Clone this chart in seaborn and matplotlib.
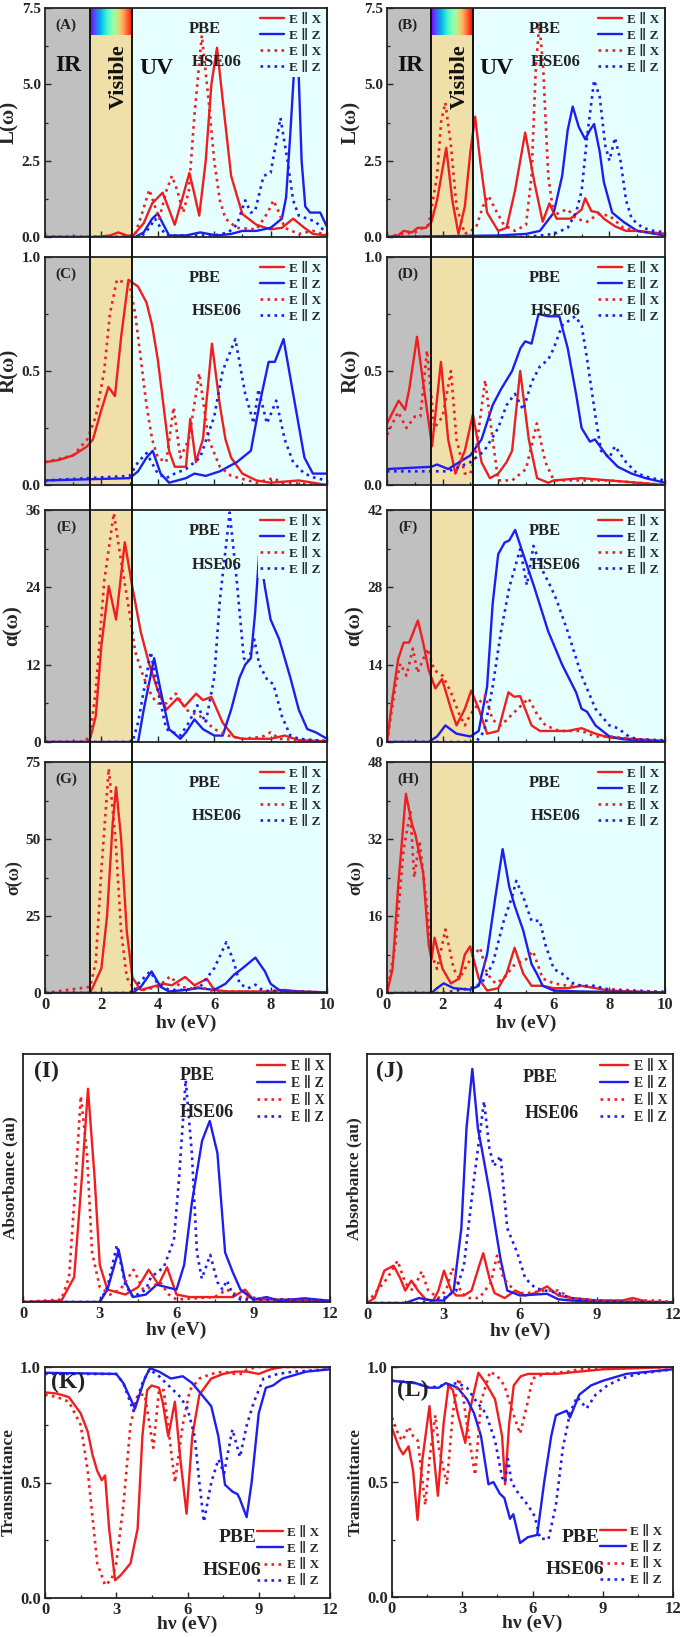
import matplotlib
matplotlib.use('Agg')
import numpy as np
import pandas as pd
import matplotlib.pyplot as plt
import seaborn as sns
from matplotlib.ticker import MultipleLocator, FormatStrFormatter

# ---------------- data (energy in eV) ----------------
# (A) L(w), left material
A_pbe_x_e = [0, 1.8, 2.3, 2.6, 2.9, 3.1, 3.5, 3.8, 4.17, 4.4, 4.6, 4.85, 5.12, 5.3, 5.47, 5.7, 5.9, 6.1, 6.3, 6.6, 7.0, 7.5, 8.0, 8.4, 8.8, 9.2, 9.5, 10]
A_pbe_x_v = [0, 0, 0.05, 0.15, 0.05, 0.02, 0.45, 1.1, 1.45, 0.9, 0.4, 1.2, 2.1, 1.4, 0.7, 2.5, 5.0, 6.2, 4.5, 2.0, 0.75, 0.4, 0.25, 0.3, 0.6, 0.3, 0.1, 0.05]
A_pbe_z_e = [0, 3.2, 3.5, 3.8, 4.0, 4.2, 4.4, 5.0, 5.5, 6.1, 6.6, 7.0, 7.5, 8.0, 8.4, 8.55, 8.7, 8.88, 9.0, 9.1, 9.23, 9.4, 9.76, 10]
A_pbe_z_v = [0, 0, 0.15, 0.6, 0.77, 0.4, 0.05, 0.05, 0.15, 0.05, 0.1, 0.2, 0.2, 0.3, 0.6, 1.3, 3.4, 6.2, 5.2, 2.5, 1.0, 0.8, 0.8, 0.33]
A_hse_x_e = [0, 2.9, 3.2, 3.45, 3.7, 3.9, 4.05, 4.3, 4.5, 4.7, 4.9, 5.1, 5.3, 5.56, 5.8, 6.0, 6.2, 6.4, 6.8, 7.5, 7.9, 8.1, 8.3, 8.5, 9.0, 9.5, 10]
A_hse_x_v = [0, 0, 0.1, 0.8, 1.55, 1.0, 0.6, 1.5, 2.0, 1.5, 0.8, 1.5, 4.0, 6.6, 4.5, 2.5, 1.2, 0.6, 0.3, 0.25, 0.8, 1.2, 0.8, 0.3, 0.1, 0.2, 0.05]
A_hse_z_e = [0, 3.4, 3.7, 3.9, 4.1, 4.3, 6.0, 6.5, 6.8, 7.1, 7.3, 7.45, 7.75, 8.0, 8.35, 8.6, 8.8, 9.0, 9.3, 9.6, 10]
A_hse_z_v = [0, 0, 0.3, 0.6, 0.3, 0.05, 0.05, 0.15, 0.4, 1.2, 0.8, 0.85, 2.0, 2.1, 3.9, 2.5, 1.2, 0.7, 0.6, 0.5, 0.1]

# (B) L(w), right material
B_pbe_x_e = [0, 0.4, 0.6, 0.9, 1.1, 1.4, 1.6, 1.8, 2.13, 2.35, 2.57, 2.8, 3.0, 3.17, 3.35, 3.6, 4.0, 4.3, 4.6, 4.97, 5.3, 5.6, 5.84, 6.1, 6.6, 7.0, 7.13, 7.35, 7.6, 7.8, 8.2, 8.6, 9.0, 10]
B_pbe_x_v = [0, 0.05, 0.2, 0.15, 0.3, 0.3, 0.5, 1.2, 2.92, 1.2, 0.1, 1.0, 2.8, 3.94, 2.5, 0.8, 0.2, 0.3, 1.5, 3.42, 1.8, 0.5, 1.1, 0.6, 0.6, 0.9, 1.27, 0.85, 0.8, 0.6, 0.35, 0.2, 0.2, 0.1]
B_pbe_z_e = [0, 4.0, 5.0, 5.5, 6.0, 6.3, 6.5, 6.68, 6.9, 7.13, 7.3, 7.45, 7.65, 7.8, 8.1, 8.5, 9.0, 10]
B_pbe_z_v = [0, 0.05, 0.1, 0.2, 0.8, 2.0, 3.5, 4.27, 3.6, 3.2, 3.5, 3.7, 2.8, 1.8, 0.8, 0.5, 0.2, 0.05]
B_hse_x_e = [0, 0.5, 1.0, 1.5, 1.8, 1.95, 2.1, 2.3, 2.5, 2.8, 3.2, 3.45, 3.65, 3.9, 4.2, 4.6, 5.0, 5.2, 5.35, 5.48, 5.62, 5.8, 6.0, 6.3, 6.5, 6.8, 7.2, 7.6, 8.0, 8.5, 9.0, 10]
B_hse_x_v = [0, 0.1, 0.15, 0.4, 2.0, 3.8, 4.4, 3.0, 1.0, 0.1, 0.3, 1.0, 1.35, 0.9, 0.4, 0.2, 0.4, 2.0, 5.5, 7.0, 5.5, 2.0, 0.7, 0.85, 0.9, 0.6, 0.5, 0.75, 0.7, 0.3, 0.2, 0.1]
B_hse_z_e = [0, 5.0, 6.0, 6.5, 6.8, 7.0, 7.2, 7.45, 7.65, 7.85, 8.0, 8.2, 8.4, 8.6, 8.8, 9.2, 9.6, 10]
B_hse_z_v = [0, 0, 0.1, 0.3, 0.8, 1.5, 3.3, 5.13, 4.6, 3.0, 2.5, 3.25, 2.5, 1.2, 0.6, 0.3, 0.2, 0.15]

# (C) R(w)
C_pbe_x_e = [0, 0.5, 1.0, 1.5, 1.7, 2.0, 2.25, 2.48, 2.7, 2.96, 3.3, 3.6, 3.8, 4.0, 4.2, 4.4, 4.6, 5.0, 5.15, 5.35, 5.6, 5.92, 6.2, 6.4, 6.6, 7.0, 7.5, 8.0, 9.0, 10]
C_pbe_x_v = [0.1, 0.11, 0.13, 0.17, 0.2, 0.33, 0.43, 0.39, 0.65, 0.9, 0.87, 0.8, 0.7, 0.55, 0.35, 0.15, 0.08, 0.08, 0.29, 0.1, 0.2, 0.62, 0.35, 0.2, 0.12, 0.05, 0.02, 0.01, 0.02, 0.0]
C_pbe_z_e = [0, 3.0, 3.3, 3.6, 3.82, 4.1, 4.4, 5.0, 5.3, 5.7, 6.2, 6.8, 7.3, 7.6, 7.93, 8.15, 8.46, 8.8, 9.2, 9.5, 10]
C_pbe_z_v = [0.02, 0.03, 0.06, 0.12, 0.15, 0.05, 0.01, 0.03, 0.05, 0.04, 0.06, 0.1, 0.15, 0.35, 0.54, 0.54, 0.64, 0.4, 0.12, 0.05, 0.05]
C_hse_x_e = [0, 1.0, 1.5, 1.8, 2.1, 2.3, 2.55, 3.0, 3.2, 3.4, 3.6, 3.8, 4.0, 4.3, 4.56, 4.8, 5.1, 5.47, 5.8, 6.2, 6.6, 7.5, 8.1, 8.4, 10]
C_hse_x_v = [0.1, 0.13, 0.2, 0.3, 0.5, 0.75, 0.9, 0.88, 0.75, 0.55, 0.35, 0.2, 0.12, 0.1, 0.34, 0.12, 0.2, 0.49, 0.2, 0.08, 0.04, 0.01, 0.03, 0.01, 0.0]
C_hse_z_e = [0, 3.0, 3.3, 3.6, 4.0, 4.3, 4.6, 5.0, 5.5, 6.0, 6.3, 6.75, 7.1, 7.4, 7.57, 7.87, 8.2, 8.5, 8.8, 9.2, 9.6, 10]
C_hse_z_v = [0.02, 0.04, 0.1, 0.14, 0.05, 0.03, 0.05, 0.07, 0.12, 0.3, 0.5, 0.64, 0.4, 0.27, 0.42, 0.27, 0.37, 0.2, 0.1, 0.05, 0.03, 0.02]

# (D) R(w)
D_pbe_x_e = [0, 0.42, 0.65, 0.8, 1.08, 1.3, 1.62, 1.94, 2.2, 2.46, 2.8, 3.09, 3.4, 3.7, 4.0, 4.3, 4.5, 4.79, 5.1, 5.4, 5.8, 6.0, 7.0, 8.0, 10]
D_pbe_x_v = [0.27, 0.37, 0.33, 0.42, 0.65, 0.45, 0.17, 0.54, 0.2, 0.05, 0.15, 0.31, 0.1, 0.03, 0.05, 0.1, 0.15, 0.5, 0.2, 0.03, 0.01, 0.02, 0.03, 0.02, 0.0]
D_pbe_z_e = [0, 1.6, 1.8, 2.2, 2.6, 3.0, 3.4, 3.8, 4.1, 4.5, 4.8, 4.97, 5.2, 5.45, 5.8, 6.2, 6.5, 6.8, 7.0, 7.3, 7.48, 7.9, 8.3, 8.8, 9.3, 10]
D_pbe_z_v = [0.07, 0.08, 0.09, 0.07, 0.1, 0.13, 0.2, 0.35, 0.42, 0.5, 0.6, 0.63, 0.62, 0.75, 0.74, 0.74, 0.6, 0.4, 0.25, 0.19, 0.2, 0.13, 0.08, 0.05, 0.03, 0.01]
D_hse_x_e = [0, 0.4, 0.7, 1.0, 1.2, 1.44, 1.7, 2.0, 2.3, 2.5, 2.8, 3.0, 3.2, 3.53, 3.8, 4.0, 4.5, 5.0, 5.39, 5.7, 6.0, 7.0, 8.0, 10]
D_hse_x_v = [0.22, 0.32, 0.25, 0.3, 0.3, 0.59, 0.25, 0.3, 0.5, 0.2, 0.05, 0.05, 0.15, 0.46, 0.2, 0.02, 0.02, 0.07, 0.27, 0.1, 0.02, 0.02, 0.02, 0.0]
D_hse_z_e = [0, 1.6, 2.2, 2.6, 3.0, 3.5, 4.0, 4.3, 4.6, 4.9, 5.2, 5.5, 5.8, 6.0, 6.3, 6.77, 7.0, 7.2, 7.5, 7.7, 8.0, 8.2, 8.6, 9.0, 9.5, 10]
D_hse_z_v = [0.06, 0.06, 0.06, 0.08, 0.1, 0.15, 0.25, 0.35, 0.4, 0.33, 0.45, 0.52, 0.55, 0.6, 0.7, 0.74, 0.7, 0.55, 0.3, 0.15, 0.12, 0.17, 0.1, 0.05, 0.03, 0.02]

# (E) alpha(w)
E_pbe_x_e = [0, 1.5, 1.6, 1.8, 2.0, 2.26, 2.52, 2.83, 3.1, 3.4, 3.7, 4.0, 4.3, 4.7, 4.95, 5.36, 5.6, 5.9, 6.3, 6.7, 7.0, 8.0, 8.5, 9.0, 10]
E_pbe_x_v = [0, 0, 0.5, 4, 15, 24.2, 19, 31, 24, 17, 12, 8, 5, 6.8, 5.5, 7.5, 6.5, 7.0, 3, 0.8, 0.5, 0.5, 1.0, 0.3, 0.1]
E_pbe_z_e = [0, 3.3, 3.5, 3.87, 4.1, 4.4, 4.8, 5.0, 5.3, 5.6, 6.0, 6.3, 6.6, 6.9, 7.1, 7.3, 7.45, 7.6, 7.8, 8.0, 8.3, 8.7, 9.0, 9.3, 9.6, 10]
E_pbe_z_v = [0, 0, 5, 13, 8, 2, 0.5, 1.5, 3.5, 2, 1, 1, 5, 10, 12, 13, 20, 29.6, 24, 19, 16, 10, 5, 2, 1.5, 0.5]
E_hse_x_e = [0, 1.4, 1.6, 1.8, 2.1, 2.44, 2.7, 3.0, 3.2, 3.5, 3.8, 4.0, 4.3, 4.64, 5.0, 5.5, 6.0, 6.5, 7.0, 7.7, 8.0, 8.3, 9.0, 10]
E_hse_x_v = [0, 0, 1, 8, 25, 35.5, 28, 20, 14, 10, 7, 6, 6, 7.5, 5, 4, 2, 1, 0.5, 0.8, 1.5, 0.5, 0.3, 0.2]
E_hse_z_e = [0, 3.1, 3.3, 3.75, 4.0, 4.3, 4.8, 5.1, 5.4, 5.7, 6.0, 6.2, 6.55, 6.8, 7.05, 7.2, 7.42, 7.6, 7.9, 8.1, 8.4, 8.7, 9.0, 9.5, 10]
E_hse_z_v = [0, 0, 3, 14, 8, 2, 1, 3, 5.7, 3, 10, 22, 35.6, 25, 13, 12.4, 15.9, 12, 9.5, 9, 4, 1, 0.5, 0.3, 0.1]

# (F) alpha(w)
F_pbe_x_e = [0, 0.2, 0.4, 0.6, 0.8, 1.11, 1.3, 1.5, 1.74, 1.98, 2.3, 2.5, 2.8, 3.03, 3.3, 3.6, 4.0, 4.37, 4.57, 4.79, 5.2, 5.5, 6.0, 6.5, 7.0, 7.5, 8.0, 9.0, 10]
F_pbe_x_v = [0, 8, 15, 18, 18, 22, 18, 13, 9.7, 11.4, 6, 3, 6, 9.3, 6, 1.5, 2, 9, 8.2, 8.3, 3, 2, 2, 2, 2.5, 1.5, 0.8, 0.5, 0.2]
F_pbe_z_e = [0, 1.5, 1.8, 2.1, 2.5, 3.0, 3.3, 3.6, 3.8, 4.0, 4.23, 4.4, 4.61, 4.9, 5.3, 5.8, 6.3, 6.8, 7.0, 7.19, 7.5, 8.0, 8.5, 9.0, 10]
F_pbe_z_v = [0, 0, 1, 3, 1.5, 1, 2, 10, 25, 34, 36.1, 36.5, 38.4, 34, 28, 20, 14, 9, 6, 5.5, 3, 1, 0.5, 0.3, 0.1]
F_hse_x_e = [0, 0.3, 0.48, 0.7, 0.93, 1.1, 1.46, 1.7, 2.0, 2.3, 2.6, 2.8, 3.0, 3.3, 3.53, 3.8, 4.1, 4.5, 5.09, 5.4, 5.7, 6.2, 7.0, 7.5, 8.0, 9.0, 10]
F_hse_x_v = [0, 10, 14.2, 12, 16.9, 12.5, 16.9, 13, 12, 9, 5, 3, 5, 7, 8.4, 4, 3, 5, 7.9, 5, 3, 2, 2, 1, 1, 0.5, 0.2]
F_hse_z_e = [0, 3.2, 3.5, 3.8, 4.1, 4.4, 4.79, 5.03, 5.27, 5.6, 5.9, 6.1, 6.5, 7.0, 7.5, 8.0, 8.3, 8.7, 9.0, 10]
F_hse_z_v = [0, 0, 2, 10, 20, 28, 34.9, 28.4, 35.5, 31, 28, 25.7, 20, 12, 6, 3, 2.5, 1, 0.5, 0.3]

# (G) sigma(w)
G_pbe_x_e = [0, 1.6, 2.0, 2.2, 2.4, 2.52, 2.7, 2.9, 3.1, 3.4, 3.8, 4.2, 4.5, 4.97, 5.3, 5.74, 6.0, 6.5, 7.0, 8.0, 8.5, 9.0, 10]
G_pbe_x_v = [0, 0, 8, 25, 55, 66.8, 50, 20, 5, 1, 2, 3, 2.5, 5.2, 2.5, 4.6, 1, 0.5, 0.5, 0.5, 1, 0.5, 0.2]
G_pbe_z_e = [0, 3.1, 3.4, 3.78, 4.1, 4.4, 5.0, 5.44, 6.0, 6.4, 6.7, 7.0, 7.46, 7.8, 8.0, 8.3, 8.6, 10]
G_pbe_z_v = [0, 0, 2, 7, 2, 0.5, 1, 1.6, 1, 3, 5.9, 8, 11.5, 7, 3, 1, 0.5, 0.2]
G_hse_x_e = [0, 1.6, 1.8, 2.0, 2.26, 2.5, 2.7, 2.9, 3.1, 3.5, 4.0, 4.44, 4.8, 5.2, 5.5, 6.0, 7.0, 8.0, 10]
G_hse_x_v = [0, 2, 10, 40, 72.9, 50, 20, 5, 2, 1, 2, 5.4, 2, 1.5, 2, 0.5, 0.5, 0.5, 0.2]
G_hse_z_e = [0, 3.1, 3.3, 3.73, 4.0, 4.4, 5.0, 5.5, 6.0, 6.43, 6.7, 6.9, 7.2, 7.46, 7.7, 8.0, 8.2, 10]
G_hse_z_v = [0, 0, 3, 7, 3, 1, 1, 2, 8, 16.5, 10, 3, 1.5, 2.7, 1, 0.5, 0.8, 0.1]

# (H) sigma(w)
H_pbe_x_e = [0, 0.2, 0.4, 0.68, 0.9, 1.02, 1.3, 1.5, 1.6, 1.71, 2.0, 2.3, 2.6, 2.8, 2.99, 3.3, 3.6, 4.0, 4.3, 4.59, 4.9, 5.2, 5.6, 6.0, 6.5, 7.0, 7.5, 8.0, 10]
H_pbe_x_v = [0, 5, 22, 41.4, 35, 33, 25, 10, 7, 11.5, 5, 2, 3, 8, 9.7, 3, 0.5, 1, 4, 9.4, 4, 1.5, 1.5, 1, 1, 1.5, 1, 0.5, 0.1]
H_pbe_z_e = [0, 1.6, 1.8, 2.04, 2.4, 3.0, 3.3, 3.6, 3.9, 4.16, 4.4, 4.6, 4.9, 5.2, 5.39, 5.6, 6.0, 7.0, 10]
H_pbe_z_v = [0, 0, 1, 2, 1, 0.7, 1.5, 8, 20, 29.9, 22, 18, 13, 6, 4, 1.5, 0.5, 0.3, 0.1]
H_hse_x_e = [0, 0.3, 0.6, 0.84, 0.98, 1.17, 1.4, 1.6, 1.8, 2.1, 2.4, 2.6, 3.0, 3.35, 3.6, 3.9, 4.2, 4.6, 5.0, 5.25, 5.6, 6.0, 6.5, 7.0, 8.0, 10]
H_hse_x_v = [0, 10, 30, 37.6, 24, 31.6, 20, 8, 5, 13.2, 5, 3, 7, 9.4, 4, 2, 3, 6, 7, 8.7, 3, 2, 1.5, 1.5, 0.8, 0.2]
H_hse_z_e = [0, 2.0, 2.5, 3.0, 3.4, 3.8, 4.2, 4.5, 4.65, 4.9, 5.2, 5.5, 5.7, 6.0, 6.3, 6.7, 7.0, 7.5, 8.0, 10]
H_hse_z_v = [0, 0, 0.5, 1, 2, 6, 15, 20, 23.3, 20, 15, 15, 10, 5, 4, 2, 1.5, 1.5, 0.5, 0.2]

# (I) absorbance (arb. units)
I_pbe_x_e = [0, 1.5, 2.0, 2.3, 2.54, 2.8, 3.0, 3.3, 4.0, 4.5, 4.91, 5.3, 5.63, 6.0, 6.5, 7.5, 8.2, 8.68, 9.0, 10, 12]
I_pbe_x_v = [0, 0.005, 0.1, 0.5, 0.86, 0.5, 0.15, 0.05, 0.03, 0.06, 0.13, 0.07, 0.14, 0.03, 0.02, 0.02, 0.02, 0.05, 0.01, 0.01, 0.005]
I_pbe_z_e = [0, 3.0, 3.3, 3.74, 4.0, 4.3, 4.8, 5.23, 5.6, 6.0, 6.3, 6.6, 7.0, 7.3, 7.6, 7.9, 8.2, 8.5, 9.0, 9.53, 10, 11, 12]
I_pbe_z_v = [0, 0, 0.05, 0.21, 0.08, 0.02, 0.03, 0.07, 0.06, 0.05, 0.15, 0.4, 0.65, 0.73, 0.6, 0.2, 0.12, 0.05, 0.01, 0.02, 0.005, 0.015, 0.005]
I_hse_x_e = [0, 1.5, 1.8, 2.0, 2.26, 2.5, 2.7, 3.0, 3.4, 3.8, 4.32, 4.7, 5.0, 5.36, 5.7, 6.0, 7.5, 7.97, 8.5, 10, 12]
I_hse_x_v = [0, 0.01, 0.1, 0.4, 0.83, 0.6, 0.2, 0.06, 0.03, 0.05, 0.13, 0.05, 0.06, 0.08, 0.03, 0.01, 0.02, 0.05, 0.02, 0.01, 0.005]
I_hse_z_e = [0, 3.0, 3.3, 3.67, 4.0, 4.3, 4.8, 5.0, 5.5, 5.9, 6.1, 6.36, 6.6, 6.8, 6.99, 7.32, 7.6, 7.8, 7.97, 8.2, 8.5, 9.0, 10.5, 12]
I_hse_z_v = [0, 0, 0.06, 0.23, 0.07, 0.02, 0.05, 0.1, 0.14, 0.25, 0.5, 0.895, 0.6, 0.2, 0.094, 0.19, 0.08, 0.05, 0.087, 0.03, 0.01, 0.01, 0.01, 0.005]

# (J) absorbance (arb. units)
J_pbe_x_e = [0, 0.3, 0.68, 1.04, 1.3, 1.5, 1.74, 2.0, 2.3, 2.6, 2.8, 3.02, 3.3, 3.5, 3.8, 4.1, 4.4, 4.56, 4.8, 5.0, 5.4, 5.82, 6.2, 6.6, 7.06, 7.5, 8.0, 9.0, 10.0, 10.42, 11, 12]
J_pbe_x_v = [0, 0.02, 0.13, 0.15, 0.1, 0.05, 0.09, 0.05, 0.015, 0.01, 0.05, 0.13, 0.05, 0.03, 0.03, 0.05, 0.15, 0.2, 0.1, 0.04, 0.02, 0.05, 0.03, 0.04, 0.067, 0.03, 0.02, 0.01, 0.01, 0.02, 0.005, 0.003]
J_pbe_z_e = [0, 1.5, 2.04, 2.5, 3.0, 3.4, 3.7, 3.9, 4.13, 4.35, 4.5, 4.8, 5.23, 5.5, 6.0, 7.06, 7.5, 8.0, 9.0, 12]
J_pbe_z_v = [0, 0, 0.02, 0.01, 0.01, 0.05, 0.3, 0.7, 0.94, 0.7, 0.62, 0.45, 0.18, 0.05, 0.03, 0.037, 0.015, 0.01, 0.005, 0.002]
J_hse_x_e = [0, 0.4, 0.8, 1.2, 1.5, 1.8, 2.14, 2.4, 2.8, 3.1, 3.35, 3.7, 4.0, 4.4, 4.85, 5.1, 5.35, 5.5, 5.9, 6.3, 7.0, 7.5, 8.0, 9.0, 11.5, 12]
J_hse_x_v = [0, 0.05, 0.1, 0.17, 0.08, 0.05, 0.127, 0.05, 0.02, 0.05, 0.14, 0.04, 0.02, 0.02, 0.08, 0.19, 0.1, 0.08, 0.04, 0.04, 0.05, 0.05, 0.02, 0.01, 0.01, 0.003]
J_hse_z_e = [0, 2.0, 2.5, 3.0, 3.5, 3.8, 4.2, 4.59, 4.8, 4.98, 5.24, 5.5, 5.9, 6.2, 6.6, 7.0, 7.5, 8.0, 9.0, 10, 12]
J_hse_z_v = [0, 0, 0.01, 0.02, 0.05, 0.15, 0.5, 0.81, 0.62, 0.55, 0.59, 0.3, 0.2, 0.1, 0.06, 0.05, 0.04, 0.02, 0.01, 0.005, 0.003]

# (K) transmittance
K_pbe_x_e = [0, 0.5, 1.0, 1.5, 1.8, 2.0, 2.2, 2.39, 2.53, 2.7, 2.95, 3.2, 3.6, 3.9, 4.1, 4.3, 4.49, 4.8, 4.95, 5.19, 5.47, 5.7, 5.96, 6.2, 6.5, 7.0, 7.5, 8.0, 8.5, 9.0, 9.5, 10, 12]
K_pbe_x_v = [0.89, 0.885, 0.87, 0.8, 0.72, 0.62, 0.55, 0.51, 0.53, 0.3, 0.077, 0.1, 0.15, 0.3, 0.7, 0.9, 0.92, 0.91, 0.85, 0.7, 0.85, 0.6, 0.365, 0.7, 0.88, 0.95, 0.97, 0.98, 0.98, 0.97, 0.99, 1.0, 1.0]
K_pbe_z_e = [0, 3.0, 3.3, 3.79, 4.2, 4.42, 4.8, 5.3, 5.8, 6.2, 6.6, 7.0, 7.3, 7.58, 7.9, 8.1, 8.2, 8.49, 8.7, 9.0, 9.3, 9.6, 10, 11, 12]
K_pbe_z_v = [0.975, 0.97, 0.93, 0.82, 0.95, 0.995, 0.98, 0.95, 0.96, 0.93, 0.88, 0.83, 0.7, 0.49, 0.46, 0.45, 0.43, 0.35, 0.5, 0.8, 0.91, 0.92, 0.95, 0.98, 0.99]
K_hse_x_e = [0, 0.5, 1.0, 1.5, 1.8, 2.0, 2.2, 2.53, 2.8, 3.0, 3.3, 3.6, 3.9, 4.2, 4.56, 4.8, 5.0, 5.47, 5.8, 6.1, 6.5, 7.0, 7.5, 8.0, 8.3, 8.5, 9.0, 12]
K_hse_x_v = [0.88, 0.87, 0.85, 0.75, 0.55, 0.35, 0.15, 0.055, 0.08, 0.15, 0.4, 0.75, 0.88, 0.88, 0.65, 0.9, 0.9, 0.5, 0.75, 0.9, 0.95, 0.97, 0.98, 0.97, 0.97, 0.99, 1.0, 1.0]
K_hse_z_e = [0, 3.0, 3.3, 3.72, 4.1, 4.4, 4.8, 5.3, 5.7, 6.0, 6.3, 6.5, 6.69, 7.0, 7.3, 7.54, 7.89, 8.21, 8.5, 8.8, 9.2, 9.8, 10.5, 12]
K_hse_z_v = [0.97, 0.97, 0.93, 0.81, 0.93, 0.99, 0.96, 0.91, 0.87, 0.82, 0.7, 0.5, 0.33, 0.5, 0.6, 0.54, 0.73, 0.61, 0.75, 0.85, 0.95, 0.97, 0.98, 0.99]

# (L) transmittance
L_pbe_x_e = [0, 0.3, 0.47, 0.71, 0.9, 1.09, 1.3, 1.6, 1.8, 1.96, 2.2, 2.41, 2.6, 2.8, 3.13, 3.3, 3.69, 4.0, 4.4, 4.7, 4.83, 5.0, 5.2, 5.5, 5.82, 6.5, 7.0, 8.0, 9.0, 12]
L_pbe_x_v = [0.735, 0.65, 0.62, 0.655, 0.55, 0.335, 0.6, 0.83, 0.6, 0.44, 0.75, 0.92, 0.9, 0.8, 0.67, 0.8, 0.975, 0.93, 0.86, 0.7, 0.49, 0.75, 0.92, 0.96, 0.97, 0.97, 0.97, 0.98, 0.99, 1.0]
L_pbe_z_e = [0, 1.0, 1.6, 2.0, 2.3, 2.8, 3.2, 3.5, 3.8, 4.12, 4.33, 4.6, 4.8, 5.04, 5.18, 5.47, 5.8, 6.2, 6.5, 6.8, 7.0, 7.46, 7.6, 8.0, 8.5, 9.0, 10, 11, 12]
L_pbe_z_v = [0.94, 0.93, 0.91, 0.91, 0.93, 0.91, 0.86, 0.8, 0.7, 0.49, 0.5, 0.45, 0.43, 0.34, 0.36, 0.235, 0.26, 0.27, 0.5, 0.7, 0.79, 0.81, 0.78, 0.88, 0.92, 0.94, 0.97, 0.98, 0.99]
L_hse_x_e = [0, 0.3, 0.45, 0.71, 0.9, 1.1, 1.42, 1.6, 1.85, 2.0, 2.34, 2.6, 2.84, 3.0, 3.2, 3.55, 3.8, 4.19, 4.5, 4.8, 5.1, 5.47, 5.8, 6.0, 6.5, 7.5, 8.0, 12]
L_hse_x_v = [0.78, 0.7, 0.68, 0.74, 0.7, 0.68, 0.4, 0.6, 0.79, 0.65, 0.49, 0.8, 0.95, 0.9, 0.75, 0.53, 0.85, 0.98, 0.96, 0.92, 0.82, 0.71, 0.85, 0.95, 0.97, 0.98, 0.99, 1.0]
L_hse_z_e = [0, 1.0, 1.6, 2.2, 2.8, 3.2, 3.6, 4.0, 4.4, 4.7, 4.83, 4.95, 5.1, 5.4, 5.8, 6.1, 6.32, 6.68, 7.0, 7.3, 7.6, 7.9, 8.31, 8.7, 9.2, 9.8, 10.5, 12]
L_hse_z_v = [0.94, 0.93, 0.91, 0.92, 0.93, 0.91, 0.85, 0.8, 0.68, 0.52, 0.5, 0.6, 0.5, 0.45, 0.4, 0.35, 0.255, 0.25, 0.4, 0.65, 0.8, 0.87, 0.82, 0.88, 0.92, 0.95, 0.97, 0.99]

legend_labels = ['E ∥ X', 'E ∥ Z', 'E ∥ X', 'E ∥ Z']
region_edges = [1.6, 3.1]   # IR | visible | UV

# ---------------- style ----------------
sns.set_style('ticks')
plt.rcParams['font.family'] = ['Liberation Serif', 'DejaVu Serif']
plt.rcParams['font.weight'] = 'bold'
plt.rcParams['axes.labelweight'] = 'bold'

RED = '#f01e1e'
BLUE = '#1e1ef0'
GRAY = '#c0c0c0'
VIS = '#efe0aa'
UVC = '#e6ffff'
STYLES = [(RED, '-'), (BLUE, '-'), (RED, ':'), (BLUE, ':')]

W, H = 685, 1637
fig = plt.figure(figsize=(W / 100, H / 100), dpi=100)


def add_ax(x0, y0, x1, y1, **kw):
    return fig.add_axes([x0 / W, 1 - y1 / H, (x1 - x0) / W, (y1 - y0) / H], **kw)


def draw_curves(ax, curves):
    for (e, v), (c, ls), lab in zip(curves, STYLES, legend_labels):
        df = pd.DataFrame({'e': e, 'v': v})
        sns.lineplot(data=df, x='e', y='v', ax=ax, color=c, linestyle=ls,
                     lw=1.7 if ls == '-' else 1.9, estimator=None, sort=False, label=lab)


def style_ax(ax):
    for s in ax.spines.values():
        s.set_linewidth(1.3)
        s.set_color('#222222')
    ax.tick_params(direction='in', length=4, width=1.0, labelsize=11, pad=3)
    ax.tick_params(which='minor', direction='in', length=2.5, width=0.9)
    ax.set_xlabel('')
    ax.set_ylabel('')


def add_legend(ax, loc, face, fs=9.5, hl=1.8):
    ax.legend(loc=loc, frameon=True, facecolor=face, edgecolor='none', framealpha=1,
              fontsize=fs, handlelength=hl, labelspacing=0.3, borderpad=0.2,
              handletextpad=0.4, borderaxespad=0.2)


def pbe_hse(ax, p1, p2, fs=12):
    ax.text(p1[0], p1[1], 'PBE', transform=ax.transAxes, ha='center', va='center',
            fontsize=fs, fontweight='bold', color='#222222', zorder=6)
    ax.text(p2[0], p2[1], 'HSE06', transform=ax.transAxes, ha='center', va='center',
            fontsize=fs, fontweight='bold', color='#222222', zorder=6)


# ---------------- upper stack: panels A-H ----------------
rows = [(8, 237), (257, 485), (510, 742), (762, 993)]
cols = [(45, 327), (387, 665)]

panels = [
    [('(A)', 'L(ω)', 7.5, 2.5, '%.1f',
      [(A_pbe_x_e, A_pbe_x_v), (A_pbe_z_e, A_pbe_z_v), (A_hse_x_e, A_hse_x_v), (A_hse_z_e, A_hse_z_v)]),
     ('(B)', 'L(ω)', 7.5, 2.5, '%.1f',
      [(B_pbe_x_e, B_pbe_x_v), (B_pbe_z_e, B_pbe_z_v), (B_hse_x_e, B_hse_x_v), (B_hse_z_e, B_hse_z_v)])],
    [('(C)', 'R(ω)', 1.0, 0.5, '%.1f',
      [(C_pbe_x_e, C_pbe_x_v), (C_pbe_z_e, C_pbe_z_v), (C_hse_x_e, C_hse_x_v), (C_hse_z_e, C_hse_z_v)]),
     ('(D)', 'R(ω)', 1.0, 0.5, '%.1f',
      [(D_pbe_x_e, D_pbe_x_v), (D_pbe_z_e, D_pbe_z_v), (D_hse_x_e, D_hse_x_v), (D_hse_z_e, D_hse_z_v)])],
    [('(E)', 'α(ω)', 36, 12, '%d',
      [(E_pbe_x_e, E_pbe_x_v), (E_pbe_z_e, E_pbe_z_v), (E_hse_x_e, E_hse_x_v), (E_hse_z_e, E_hse_z_v)]),
     ('(F)', 'α(ω)', 42, 14, '%d',
      [(F_pbe_x_e, F_pbe_x_v), (F_pbe_z_e, F_pbe_z_v), (F_hse_x_e, F_hse_x_v), (F_hse_z_e, F_hse_z_v)])],
    [('(G)', 'σ(ω)', 75, 25, '%d',
      [(G_pbe_x_e, G_pbe_x_v), (G_pbe_z_e, G_pbe_z_v), (G_hse_x_e, G_hse_x_v), (G_hse_z_e, G_hse_z_v)]),
     ('(H)', 'σ(ω)', 48, 16, '%d',
      [(H_pbe_x_e, H_pbe_x_v), (H_pbe_z_e, H_pbe_z_v), (H_hse_x_e, H_hse_x_v), (H_hse_z_e, H_hse_z_v)])],
]

for r, (y0, y1) in enumerate(rows):
    for c, (x0, x1) in enumerate(cols):
        tag, ylab, ymax, step, fmt, curves = panels[r][c]
        ax = add_ax(x0, y0, x1, y1)
        ax.axvspan(0, region_edges[0], color=GRAY, zorder=0, lw=0)
        ax.axvspan(region_edges[0], region_edges[1], color=VIS, zorder=0, lw=0)
        ax.axvspan(region_edges[1], 10, color=UVC, zorder=0, lw=0)
        if r == 0:
            # rainbow strip above the visible window
            ax.imshow(np.linspace(0, 1, 64).reshape(1, -1), cmap='rainbow', aspect='auto',
                      extent=[region_edges[0], region_edges[1], ymax * 0.883, ymax], zorder=1)
        draw_curves(ax, curves)
        ax.set_xlim(0, 10)
        ax.set_ylim(0, ymax)
        ax.xaxis.set_major_locator(MultipleLocator(2))
        ax.xaxis.set_minor_locator(MultipleLocator(1))
        ax.yaxis.set_major_locator(MultipleLocator(step))
        ax.yaxis.set_minor_locator(MultipleLocator(step / 2))
        ax.yaxis.set_major_formatter(FormatStrFormatter(fmt))
        style_ax(ax)
        ax.set_ylabel(ylab, fontsize=15 if r < 3 else 13, labelpad=2)
        if r == 3:
            ax.set_xlabel('hν (eV)', fontsize=14, labelpad=1)
            ax.tick_params(axis='x', labelsize=12)
        else:
            ax.tick_params(axis='x', labelbottom=False)
        ax.text(0.075, 0.925, tag, transform=ax.transAxes, ha='center', va='center',
                fontsize=11, fontweight='bold', color='#222222')
        if r == 0:
            ax.text(0.083, 0.75, 'IR', transform=ax.transAxes, ha='center', va='center',
                    fontsize=17, fontweight='bold', color='#111111')
            ax.text(0.262, 0.70, 'Visible', transform=ax.transAxes, ha='center', va='center',
                    rotation=90, fontsize=16, fontweight='bold', color='#111111')
            ax.text(0.395, 0.735, 'UV', transform=ax.transAxes, ha='center', va='center',
                    fontsize=17, fontweight='bold', color='#111111')
        pbe_hse(ax, (0.568, 0.91), (0.608, 0.765))
        add_legend(ax, 'upper right', UVC)

# overlay per column: region borders running through the whole stack
for (x0, x1) in cols:
    ov = add_ax(x0, rows[0][0], x1, rows[-1][1], facecolor='none')
    ov.set_xlim(0, 10)
    for xe in region_edges:
        ov.axvline(xe, color='#111111', lw=1.4)
    ov.set_xticks([])
    ov.set_yticks([])
    for side in ['top', 'bottom', 'left']:
        ov.spines[side].set_visible(False)
    ov.spines['right'].set_linewidth(1.3)
    ov.spines['right'].set_color('#222222')

# ---------------- absorbance I, J ----------------
abs_panels = [
    ((23, 1054, 330, 1302), '(I)', (0.566, 0.915), (0.6, 0.766),
     [(I_pbe_x_e, I_pbe_x_v), (I_pbe_z_e, I_pbe_z_v), (I_hse_x_e, I_hse_x_v), (I_hse_z_e, I_hse_z_v)]),
    ((367, 1054, 673, 1303), '(J)', (0.565, 0.907), (0.605, 0.76),
     [(J_pbe_x_e, J_pbe_x_v), (J_pbe_z_e, J_pbe_z_v), (J_hse_x_e, J_hse_x_v), (J_hse_z_e, J_hse_z_v)]),
]
for box, tag, p1, p2, curves in abs_panels:
    ax = add_ax(*box)
    ax.set_facecolor('white')
    draw_curves(ax, curves)
    ax.set_xlim(0, 12)
    ax.set_ylim(0, 1.0)
    ax.xaxis.set_major_locator(MultipleLocator(3))
    ax.xaxis.set_minor_locator(MultipleLocator(1.5))
    style_ax(ax)
    ax.set_yticks([])
    ax.tick_params(axis='x', labelsize=12)
    ax.set_ylabel('Absorbance (au)', fontsize=12.5, labelpad=3)
    ax.set_xlabel('hν (eV)', fontsize=14, labelpad=0)
    ax.text(0.075, 0.93, tag, transform=ax.transAxes, ha='center', va='center',
            fontsize=17, fontweight='bold', color='#222222')
    pbe_hse(ax, p1, p2, fs=13)
    add_legend(ax, 'upper right', 'white', fs=10, hl=2.0)

# ---------------- transmittance K, L ----------------
tr_panels = [
    ((45, 1367, 330, 1598), '(K)', (0.08, 0.935), (0.674, 0.26), (0.656, 0.12),
     [(K_pbe_x_e, K_pbe_x_v), (K_pbe_z_e, K_pbe_z_v), (K_hse_x_e, K_hse_x_v), (K_hse_z_e, K_hse_z_v)]),
    ((392, 1367, 673, 1597), '(L)', (0.075, 0.9), (0.67, 0.26), (0.65, 0.12),
     [(L_pbe_x_e, L_pbe_x_v), (L_pbe_z_e, L_pbe_z_v), (L_hse_x_e, L_hse_x_v), (L_hse_z_e, L_hse_z_v)]),
]
for box, tag, pt, p1, p2, curves in tr_panels:
    ax = add_ax(*box)
    ax.set_facecolor('white')
    draw_curves(ax, curves)
    ax.set_xlim(0, 12)
    ax.set_ylim(0, 1.0)
    ax.xaxis.set_major_locator(MultipleLocator(3))
    ax.xaxis.set_minor_locator(MultipleLocator(1.5))
    ax.yaxis.set_major_locator(MultipleLocator(0.5))
    ax.yaxis.set_minor_locator(MultipleLocator(0.25))
    ax.yaxis.set_major_formatter(FormatStrFormatter('%.1f'))
    style_ax(ax)
    ax.tick_params(labelsize=12)
    ax.set_ylabel('Transmittance', fontsize=12.5, labelpad=2)
    ax.set_xlabel('hν (eV)', fontsize=14, labelpad=-2)
    ax.text(pt[0], pt[1], tag, transform=ax.transAxes, ha='center', va='center',
            fontsize=17, fontweight='bold', color='#222222')
    pbe_hse(ax, p1, p2, fs=14)
    ax.legend(loc='lower right', frameon=False, fontsize=9.5, handlelength=2.0,
              labelspacing=0.3, borderpad=0.2, handletextpad=0.3, borderaxespad=0.6)

fig.savefig('out.png', dpi=100)
plt.close(fig)
